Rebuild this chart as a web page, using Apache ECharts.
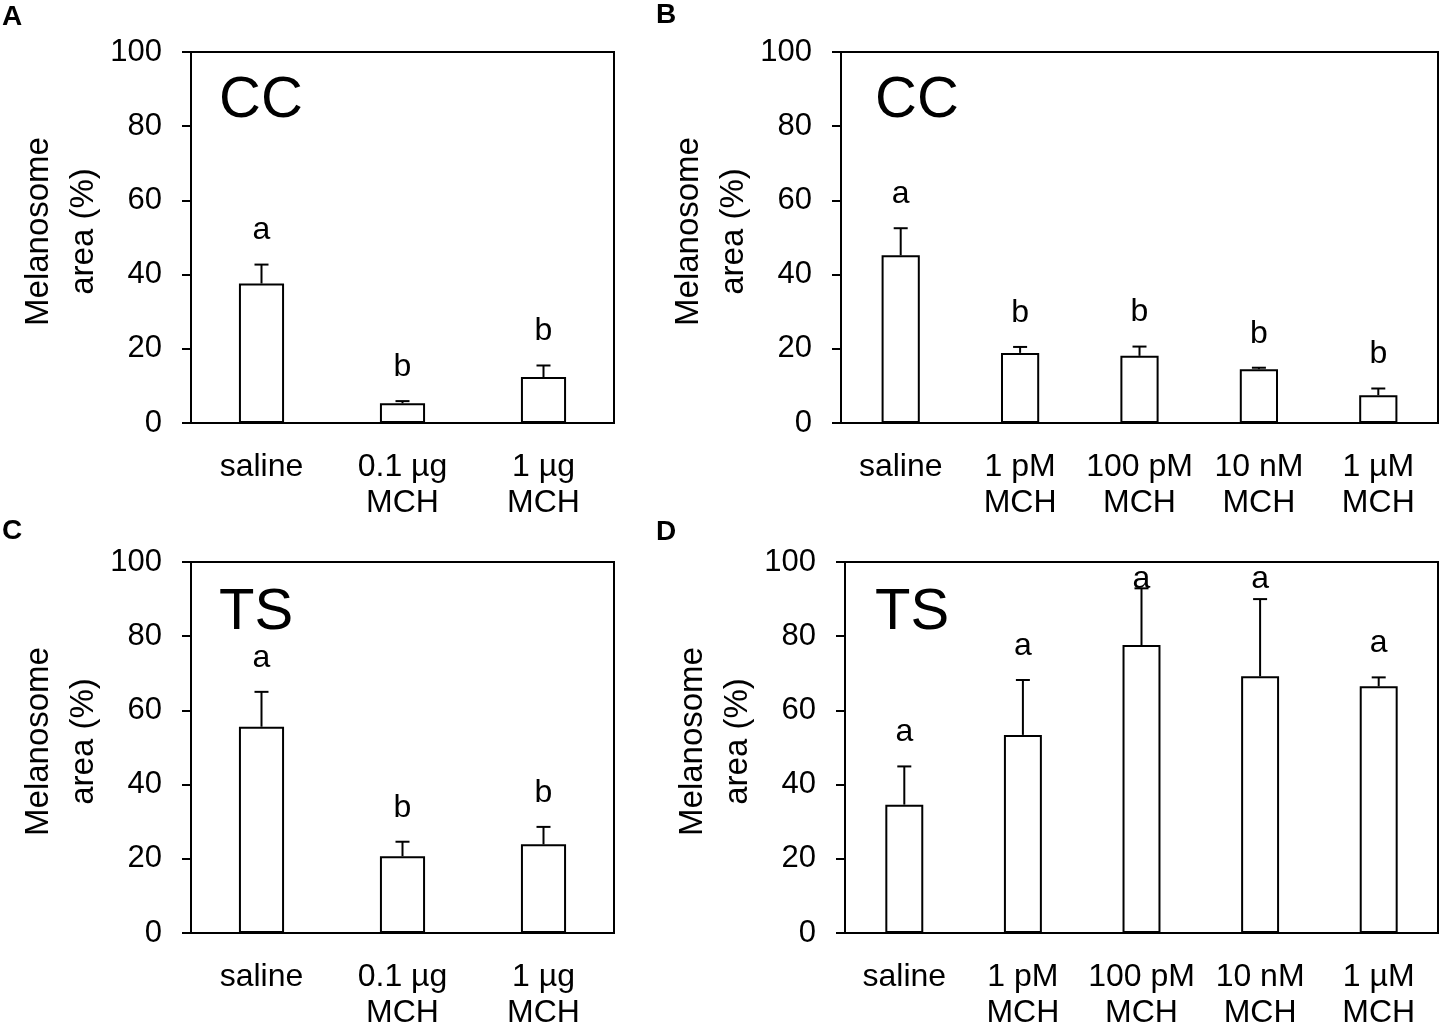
<!DOCTYPE html>
<html>
<head>
<meta charset="utf-8">
<script src="https://cdn.jsdelivr.net/npm/echarts@6/dist/echarts.min.js"></script>
<style>
  html, body { margin: 0; padding: 0; background: #fff; }
  #chart { width: 1443px; height: 1025px; }
</style>
</head>
<body>
<div id="chart"></div>
<script>
// categories
var catsUg = ['saline', '0.1 µg\nMCH', '1 µg\nMCH'];
var catsConc = ['saline', '1 pM\nMCH', '100 pM\nMCH', '10 nM\nMCH', '1 µM\nMCH'];

// A: CC, in vivo dose
var meanA = [37.6, 5.3, 12.4];
var seA = [5.1, 0.6, 3.1];
var letA = ['a', 'b', 'b'];

// B: CC, concentration
var meanB = [45.2, 18.9, 18.1, 14.5, 7.5];
var seB = [7.3, 1.6, 2.5, 0.4, 1.8];
var letB = ['a', 'b', 'b', 'b', 'b'];

// C: TS, in vivo dose
var meanC = [55.6, 20.7, 23.9];
var seC = [9.4, 3.9, 4.7];
var letC = ['a', 'b', 'b'];

// D: TS, concentration
var meanD = [34.6, 53.4, 77.6, 69.2, 66.5];
var seD = [10.3, 14.8, 15.3, 20.8, 2.4];
var letD = ['a', 'a', 'a', 'a', 'a'];

var yTicks = [0, 20, 40, 60, 80, 100];

var FONT = '"Liberation Sans", Arial, sans-serif';
var chart = echarts.init(document.getElementById('chart'));

var panels = [
    { cats: catsUg,   mean: meanA, se: seA, let: letA, grid: { left: 191, top: 52,  width: 423, height: 371 } },
    { cats: catsConc, mean: meanB, se: seB, let: letB, grid: { left: 841, top: 52,  width: 597, height: 371 } },
    { cats: catsUg,   mean: meanC, se: seC, let: letC, grid: { left: 191, top: 562, width: 423, height: 371 } },
    { cats: catsConc, mean: meanD, se: seD, let: letD, grid: { left: 845, top: 562, width: 593, height: 371 } }
];

var grids = [], xAxes = [], yAxes = [], series = [];

panels.forEach(function(p, i) {
    grids.push({
        left: p.grid.left, top: p.grid.top, width: p.grid.width, height: p.grid.height,
        outerBoundsMode: 'none', containLabel: false,
        show: true, borderColor: '#000', borderWidth: 2, backgroundColor: 'transparent'
    });
    xAxes.push({
        type: 'category', gridIndex: i, data: p.cats,
        axisLine: { lineStyle: { color: '#000', width: 2 } },
        axisTick: { show: false },
        axisLabel: { interval: 0, color: '#000', fontFamily: FONT, fontSize: 32, lineHeight: 36, margin: 26 }
    });
    yAxes.push({
        type: 'value', gridIndex: i, min: yTicks[0], max: yTicks[yTicks.length - 1], interval: 20,
        name: 'Melanosome\narea (%)', nameLocation: 'middle', nameGap: 83,
        nameTextStyle: { color: '#000', fontFamily: FONT, fontSize: 33, lineHeight: 45, padding: [0, 0, 0, 12] },
        axisLine: { show: true, lineStyle: { color: '#000', width: 2 } },
        axisTick: { show: true, length: 9, lineStyle: { color: '#000', width: 2 } },
        axisLabel: { color: '#000', fontFamily: FONT, fontSize: 31, margin: 29 },
        splitLine: { show: false }
    });
    series.push({
        type: 'bar', xAxisIndex: i, yAxisIndex: i,
        data: p.mean, barWidth: '32%',
        itemStyle: { color: '#fff', borderColor: '#000', borderWidth: 2 },
        silent: true, z: 2
    });
    series.push({
        type: 'custom', xAxisIndex: i, yAxisIndex: i,
        data: p.mean.map(function(m, k) { return [k, m, p.se[k]]; }),
        z: 3, silent: true,
        renderItem: function(params, api) {
            var k = api.value(0), m = api.value(1), e = api.value(2);
            var base = api.coord([k, m]);
            var top = api.coord([k, m + e]);
            var hw = 7;
            var gy = params.coordSys.y;
            // significance letter sits above the cap, kept inside the box
            var ly = Math.max(top[1] - 18, gy + 33);
            return {
                type: 'group',
                children: [
                    { type: 'line', shape: { x1: base[0], y1: base[1], x2: top[0], y2: top[1] },
                      style: { stroke: '#000', lineWidth: 2 } },
                    { type: 'line', shape: { x1: top[0] - hw, y1: top[1], x2: top[0] + hw, y2: top[1] },
                      style: { stroke: '#000', lineWidth: 2 } },
                    { type: 'text', x: top[0], y: ly,
                      style: { text: p.let[params.dataIndex], font: '32px ' + FONT, fill: '#000',
                               align: 'center', verticalAlign: 'bottom' } }
                ]
            };
        }
    });
});

function txt(left, top, s, font) {
    return { type: 'text', left: left, top: top, style: { text: s, font: font, fill: '#000' } };
}

var option = {
    backgroundColor: '#fff',
    animation: false,
    grid: grids,
    xAxis: xAxes,
    yAxis: yAxes,
    series: series,
    graphic: [
        txt(2, 3, 'A', 'bold 28px ' + FONT),
        txt(656, 1, 'B', 'bold 28px ' + FONT),
        txt(2, 517, 'C', 'bold 28px ' + FONT),
        txt(656, 518, 'D', 'bold 28px ' + FONT),
        txt(219, 72, 'CC', '58px ' + FONT),
        txt(875, 72, 'CC', '58px ' + FONT),
        txt(219, 584, 'TS', '58px ' + FONT),
        txt(875, 584, 'TS', '58px ' + FONT)
    ]
};

chart.setOption(option);
</script>
</body>
</html>
